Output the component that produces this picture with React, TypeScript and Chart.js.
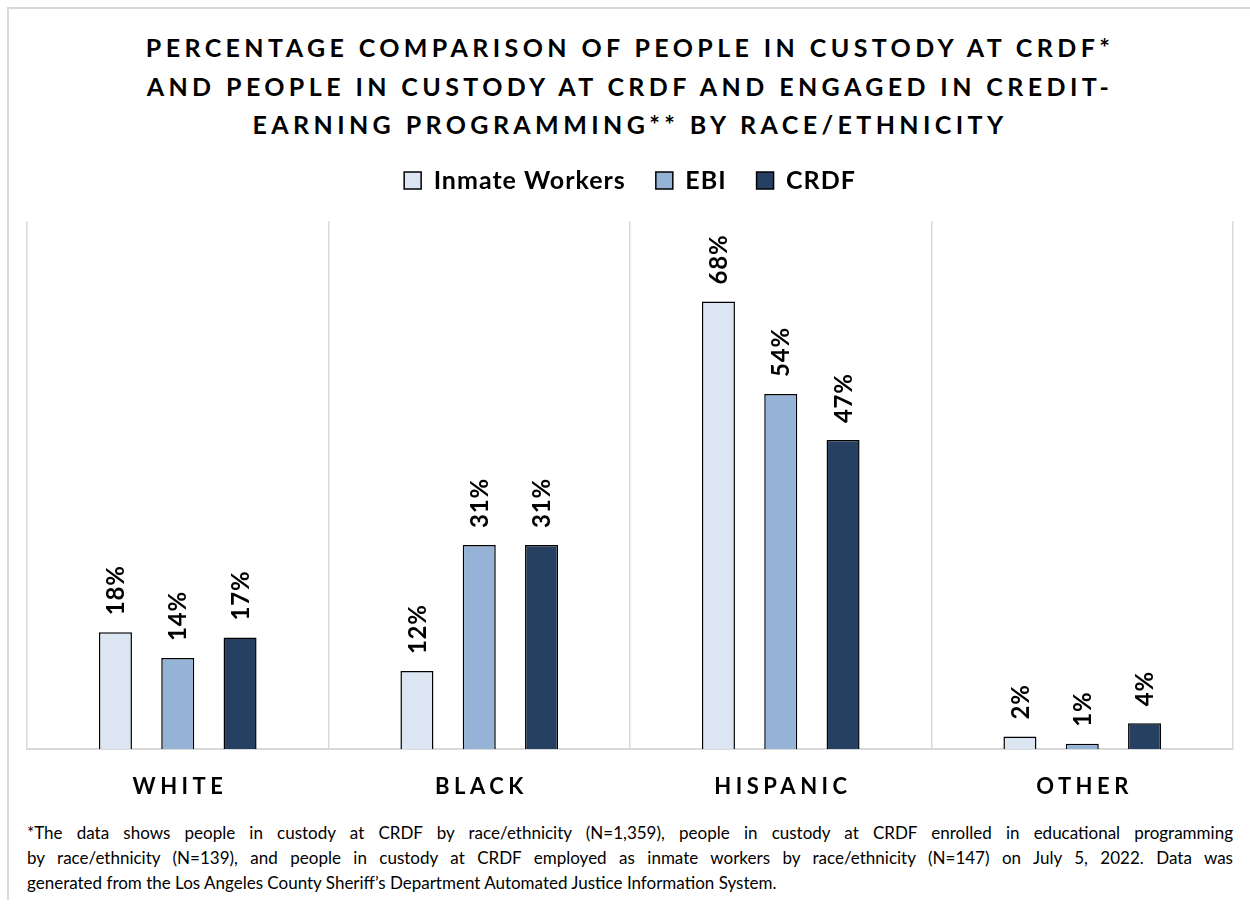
import React, { useEffect, useRef } from 'react';
import { Chart, registerables } from 'chart.js';

Chart.register(...registerables);

const FONT = 'Lato, "Noto Sans", sans-serif';

const categories = ['WHITE', 'BLACK', 'HISPANIC', 'OTHER'];
const seriesNames = ['Inmate Workers', 'EBI', 'CRDF'];
const inmateWorkers = [17.7, 11.8, 67.8, 1.9];
const ebi = [13.8, 30.9, 53.8, 0.8];
const crdf = [16.9, 30.9, 46.8, 3.9];
const seriesColors = ['#DCE6F2', '#95B3D7', '#254061'];
const yMin = 0;
const yMax = 80;

const titleLines = [
  'PERCENTAGE COMPARISON OF PEOPLE IN CUSTODY AT CRDF*',
  'AND PEOPLE IN CUSTODY AT CRDF AND ENGAGED IN CREDIT-',
  'EARNING PROGRAMMING** BY RACE/ETHNICITY',
];

const footnoteLines = [
  '*The data shows people in custody at CRDF by race/ethnicity (N=1,359), people in custody at CRDF enrolled in educational programming',
  'by race/ethnicity (N=139), and people in custody at CRDF employed as inmate workers by race/ethnicity (N=147) on July 5, 2022. Data was',
  'generated from the Los Angeles County Sheriff\u2019s Department Automated Justice Information System.',
];

const LEGEND_H = 83;

const customPlugin = {
  id: 'customDraw',
  beforeLayout(chart: any) {
    chart.ctx.letterSpacing = '1px';
    const lg = chart.legend;
    if (lg && !lg._patchedFit) {
      const orig = lg.fit;
      lg.fit = function () {
        orig.call(this);
        this.height = LEGEND_H;
      };
      lg._patchedFit = true;
    }
  },
  beforeDraw(chart: any) {
    chart.ctx.letterSpacing = '1px';
  },
  afterDatasetsDraw(chart: any) {
    const ctx = chart.ctx;
    ctx.save();
    ctx.letterSpacing = '0.8px';
    ctx.font = `bold 24px ${FONT}`;
    ctx.fillStyle = '#000';
    ctx.textAlign = 'left';
    ctx.textBaseline = 'middle';
    chart.data.datasets.forEach((ds: any, di: number) => {
      const meta = chart.getDatasetMeta(di);
      meta.data.forEach((bar: any, i: number) => {
        const v = ds.data[i];
        ctx.save();
        ctx.translate(bar.x + 1, bar.y - 17);
        ctx.rotate(-Math.PI / 2);
        ctx.fillText(Math.round(v) + '%', 0, 0);
        ctx.restore();
      });
    });
    ctx.restore();
  },
  afterDraw(chart: any) {
    const ctx = chart.ctx;
    const xs = chart.scales.x;
    ctx.save();
    ctx.font = `bold 22px ${FONT}`;
    ctx.letterSpacing = '4.5px';
    ctx.fillStyle = '#000';
    ctx.textAlign = 'center';
    ctx.textBaseline = 'middle';
    chart.data.labels.forEach((l: string, i: number) => {
      ctx.fillText(l, xs.getPixelForValue(i) + 2.25, chart.chartArea.bottom + 38);
    });
    ctx.restore();
  },
};

export default function App() {
  const canvasRef = useRef<HTMLCanvasElement | null>(null);

  useEffect(() => {
    if (!canvasRef.current) return;
    const seriesData = [inmateWorkers, ebi, crdf];
    const chart = new Chart(canvasRef.current, {
      type: 'bar',
      data: {
        labels: categories,
        datasets: seriesNames.map((name, i) => ({
          label: name,
          data: seriesData[i],
          backgroundColor: seriesColors[i],
          borderColor: '#000000',
          borderWidth: 1.5,
          categoryPercentage: 0.62,
          barPercentage: 0.53,
        })),
      },
      options: {
        animation: false,
        responsive: true,
        maintainAspectRatio: false,
        events: [],
        layout: { padding: { left: 27, right: 17, top: 0, bottom: 69 } },
        plugins: {
          tooltip: { enabled: false },
          title: { display: false },
          legend: {
            display: true,
            position: 'top',
            labels: {
              font: { family: FONT, size: 25, weight: 'bold' },
              color: '#000',
              boxWidth: 17,
              boxHeight: 17,
              padding: 30,
            },
          },
        },
        scales: {
          x: {
            offset: true,
            grid: { display: true, offset: true, color: '#d9d9d9', lineWidth: 1.5, drawTicks: false },
            border: { display: true, color: '#d9d9d9', width: 2 },
            ticks: { display: false },
          },
          y: {
            display: false,
            min: yMin,
            max: yMax,
          },
        },
      },
      plugins: [customPlugin],
    });
    return () => chart.destroy();
  }, []);

  return (
    <div style={{ position: 'absolute', left: 0, top: 0, width: 1250, height: 907, background: '#fff', overflow: 'hidden', fontFamily: FONT }}>
      <div style={{ position: 'absolute', left: 7, top: 7, width: 1243, height: 893, borderTop: '2px solid #d9d9d9', borderLeft: '2px solid #d9d9d9', boxSizing: 'border-box' }} />
      <div style={{ position: 'absolute', top: 28, left: 0, width: 1250, paddingLeft: 10, boxSizing: 'border-box', textAlign: 'center', fontWeight: 'bold', fontSize: 25, letterSpacing: '4.4px', lineHeight: '38.5px', color: '#000' }}>
        {titleLines.map((t, i) => (
          <div key={i}>{t}</div>
        ))}
      </div>
      <div style={{ position: 'absolute', left: 0, top: 138, width: 1250, height: 680 }}>
        <canvas ref={canvasRef} />
      </div>
      <div style={{ position: 'absolute', left: 27, top: 820, width: 1206, fontSize: 17, lineHeight: '25px', color: '#000' }}>
        {footnoteLines.map((t, i) => (
          <div key={i} style={{ textAlign: 'justify', textAlignLast: i < footnoteLines.length - 1 ? 'justify' : 'left' } as any}>{t}</div>
        ))}
      </div>
    </div>
  );
}
